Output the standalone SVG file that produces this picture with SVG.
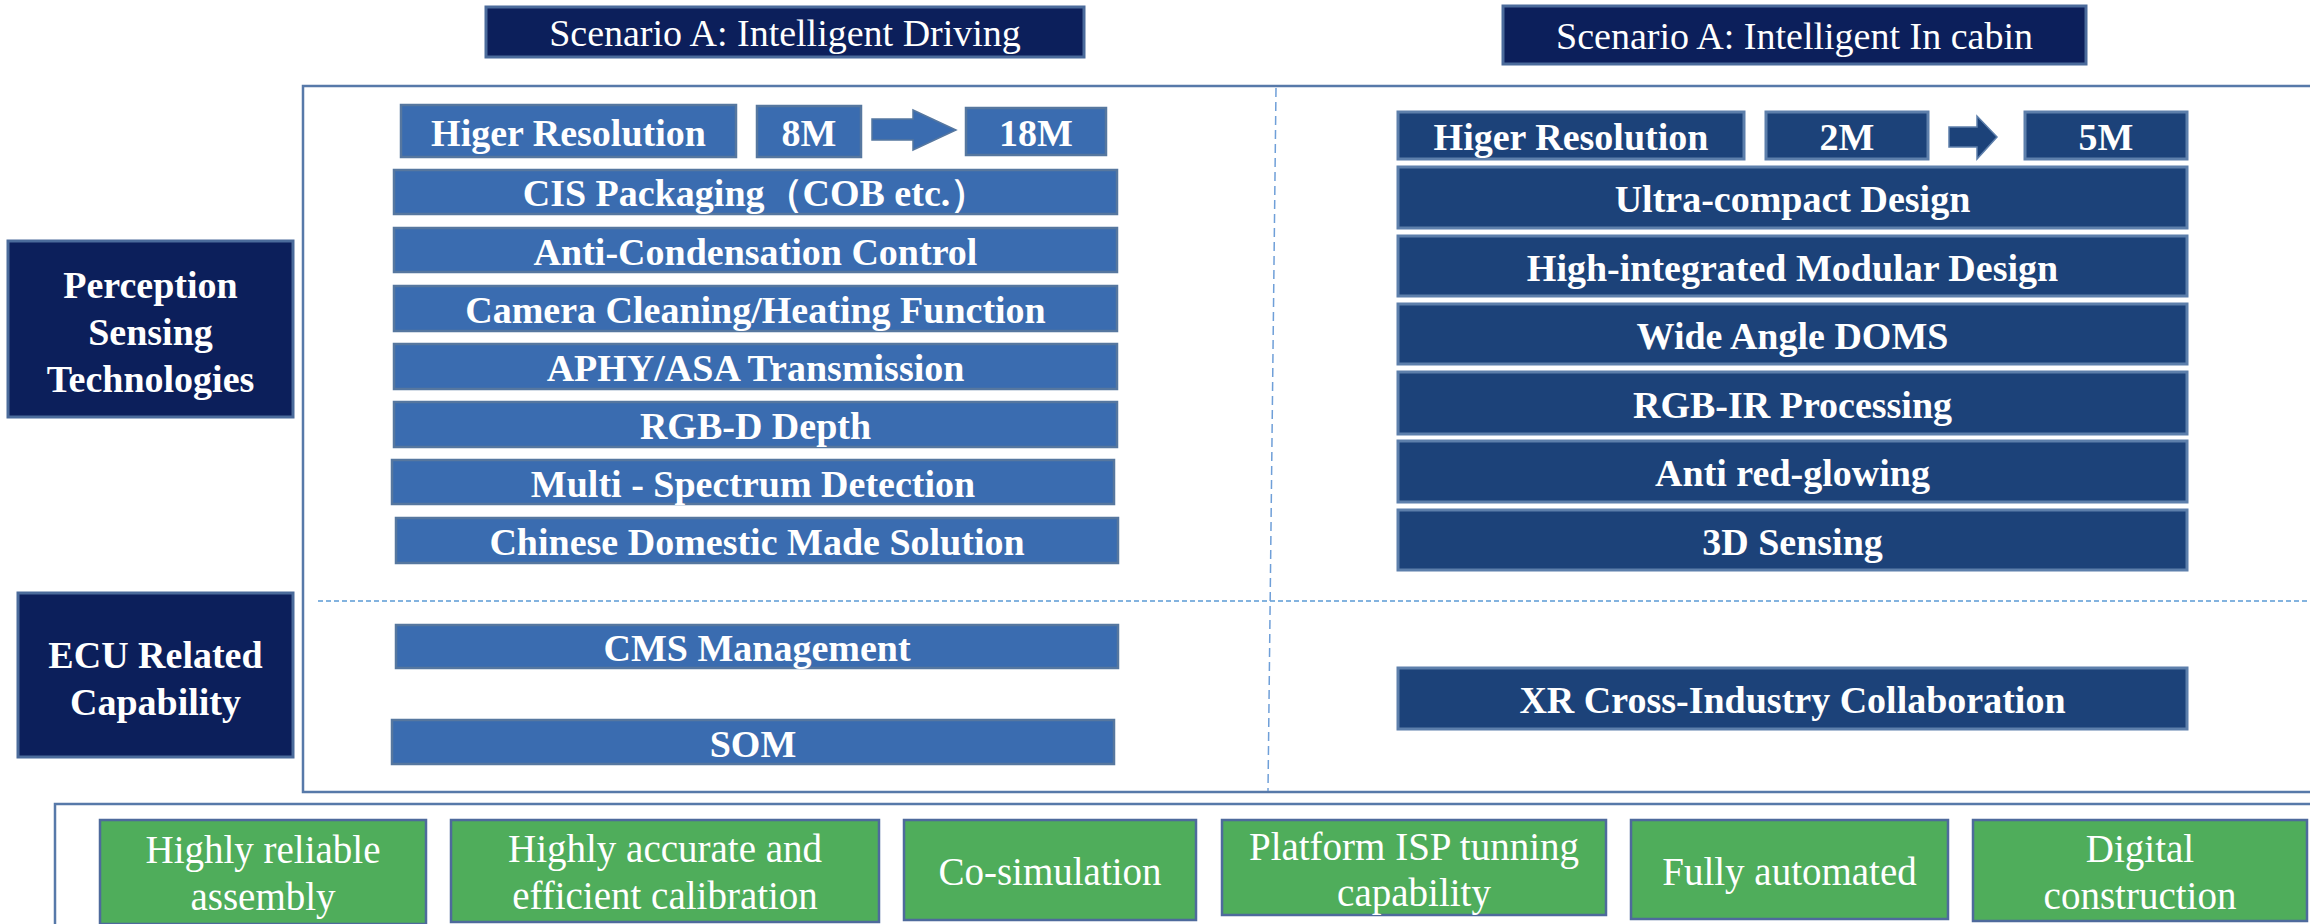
<svg xmlns="http://www.w3.org/2000/svg" width="2310" height="924" viewBox="0 0 2310 924">
<style>
.hdr{fill:#0c1f5b;stroke:#4b6b9b;stroke-width:3}
.side{fill:#0c1f5b;stroke:#4b6b9b;stroke-width:3}
.lb{fill:#3a6cb0;stroke:#56779f;stroke-width:2.5}
.rb{fill:#1c4279;stroke:#5d7fab;stroke-width:3}
.gb{fill:#4fad5b;stroke:#4e6a9c;stroke-width:2.5}
.frame{fill:none;stroke:#5779a9;stroke-width:2.5}
.t{font-family:"Liberation Serif","Times New Roman",serif;fill:#ffffff;text-anchor:middle}
.b{font-weight:bold;font-size:38px}
.r{font-size:38px}
.g{font-size:39px}
</style>
<rect x="0" y="0" width="2310" height="924" fill="#ffffff"/>

<g id="frames">
<rect class="frame" x="303" y="86" width="2110" height="706"/>
<rect class="frame" x="55" y="804" width="2300" height="200"/>
</g>

<g id="connectors">
<line x1="318" y1="601" x2="2310" y2="601" stroke="#5b9bd5" stroke-width="1.5" stroke-dasharray="5 3"/>
<line x1="1276" y1="88" x2="1268" y2="791" stroke="#6f9fd8" stroke-width="1.5" stroke-dasharray="9 5"/>
<polygon points="872,119 913,119 913,110 956,130 913,150 913,140 872,140" fill="#3a6cb0" stroke="#56779f" stroke-width="1.5"/>
<polygon points="1949,127 1977,127 1977,116 1997,137 1977,159 1977,147 1949,147" fill="#1c4279" stroke="#5d7fab" stroke-width="1.5"/>
</g>

<g id="hdr-driving"><rect class="hdr" x="486" y="7" width="598" height="50"/><text class="t r" x="785" y="46">Scenario A: Intelligent Driving</text></g>
<g id="hdr-cabin"><rect class="hdr" x="1503" y="6" width="583" height="58"/><text class="t r" x="1794.5" y="49">Scenario A: Intelligent In cabin</text></g>

<g id="side-perception"><rect class="side" x="8" y="241" width="285" height="176"/>
<text class="t b" x="150.5" y="298">Perception</text><text class="t b" x="150.5" y="345">Sensing</text><text class="t b" x="150.5" y="392">Technologies</text></g>
<g id="side-ecu"><rect class="side" x="18" y="593" width="275" height="164"/>
<text class="t b" x="155.5" y="668">ECU Related</text><text class="t b" x="155.5" y="715">Capability</text></g>

<g id="l-res"><rect class="lb" x="401" y="105" width="335" height="52"/><text class="t b" x="568.5" y="146">Higer Resolution</text></g>
<g id="l-8m"><rect class="lb" x="757" y="106" width="104" height="51"/><text class="t b" x="809" y="146">8M</text></g>
<g id="l-18m"><rect class="lb" x="966" y="108" width="140" height="47"/><text class="t b" x="1036" y="146">18M</text></g>
<g id="l-cis"><rect class="lb" x="394" y="170" width="723" height="44"/><text class="t b" x="755.5" y="206">CIS Packaging（COB etc.）</text></g>
<g id="l-anti"><rect class="lb" x="394" y="228" width="723" height="44"/><text class="t b" x="755.5" y="264.5">Anti-Condensation Control</text></g>
<g id="l-cam"><rect class="lb" x="394" y="286" width="723" height="45"/><text class="t b" x="755.5" y="323">Camera Cleaning/Heating Function</text></g>
<g id="l-aphy"><rect class="lb" x="394" y="344" width="723" height="45"/><text class="t b" x="755.5" y="381">APHY/ASA Transmission</text></g>
<g id="l-rgbd"><rect class="lb" x="394" y="402" width="723" height="45"/><text class="t b" x="755.5" y="439">RGB-D Depth</text></g>
<g id="l-multi"><rect class="lb" x="392" y="460" width="722" height="44"/><text class="t b" x="753" y="496.5">Multi - Spectrum Detection</text></g>
<g id="l-chinese"><rect class="lb" x="396" y="518" width="722" height="45"/><text class="t b" x="757" y="555">Chinese Domestic Made Solution</text></g>
<g id="l-cms"><rect class="lb" x="396" y="625" width="722" height="43"/><text class="t b" x="757" y="661">CMS Management</text></g>
<g id="l-som"><rect class="lb" x="392" y="720" width="722" height="44"/><text class="t b" x="753" y="757">SOM</text></g>

<g id="r-res"><rect class="rb" x="1398" y="112" width="346" height="47"/><text class="t b" x="1571" y="150">Higer Resolution</text></g>
<g id="r-2m"><rect class="rb" x="1766" y="112" width="162" height="47"/><text class="t b" x="1847" y="150">2M</text></g>
<g id="r-5m"><rect class="rb" x="2025" y="112" width="162" height="47"/><text class="t b" x="2106" y="150">5M</text></g>
<g id="r-ultra"><rect class="rb" x="1398" y="167" width="789" height="61"/><text class="t b" x="1792.5" y="212">Ultra-compact Design</text></g>
<g id="r-modular"><rect class="rb" x="1398" y="236" width="789" height="60"/><text class="t b" x="1792.5" y="280.5">High-integrated Modular Design</text></g>
<g id="r-doms"><rect class="rb" x="1398" y="304" width="789" height="60"/><text class="t b" x="1792.5" y="348.5">Wide Angle DOMS</text></g>
<g id="r-rgbir"><rect class="rb" x="1398" y="372" width="789" height="62"/><text class="t b" x="1792.5" y="417.5">RGB-IR Processing</text></g>
<g id="r-red"><rect class="rb" x="1398" y="441" width="789" height="61"/><text class="t b" x="1792.5" y="486">Anti red-glowing</text></g>
<g id="r-3d"><rect class="rb" x="1398" y="510" width="789" height="60"/><text class="t b" x="1792.5" y="554.5">3D Sensing</text></g>
<g id="r-xr"><rect class="rb" x="1398" y="668" width="789" height="61"/><text class="t b" x="1792.5" y="713">XR Cross-Industry Collaboration</text></g>

<g id="g-assembly"><rect class="gb" x="100" y="820" width="326" height="104"/><text class="t g" x="263" y="863">Highly reliable</text><text class="t g" x="263" y="910">assembly</text></g>
<g id="g-calib"><rect class="gb" x="451" y="820" width="428" height="102"/><text class="t g" x="665" y="862">Highly accurate and</text><text class="t g" x="665" y="909">efficient calibration</text></g>
<g id="g-cosim"><rect class="gb" x="904" y="820" width="292" height="100"/><text class="t g" x="1050" y="885">Co-simulation</text></g>
<g id="g-isp"><rect class="gb" x="1222" y="820" width="384" height="95"/><text class="t g" x="1414" y="860">Platform ISP tunning</text><text class="t g" x="1414" y="906">capability</text></g>
<g id="g-auto"><rect class="gb" x="1631" y="820" width="317" height="99"/><text class="t g" x="1789.5" y="885">Fully automated</text></g>
<g id="g-digital"><rect class="gb" x="1973" y="820" width="334" height="101"/><text class="t g" x="2140" y="862">Digital</text><text class="t g" x="2140" y="909">construction</text></g>
</svg>
